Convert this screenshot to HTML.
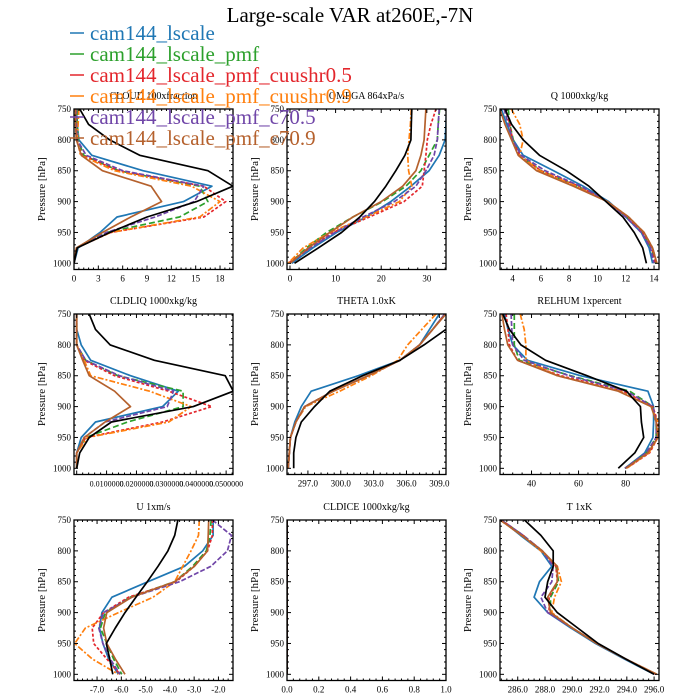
<!DOCTYPE html>
<html><head><meta charset="utf-8"><style>
body{margin:0;background:#fff;}
svg{display:block;font-family:"Liberation Serif",serif;}
</style></head><body>
<svg id="chart" width="700" height="700" viewBox="0 0 700 700"></svg>
<script>
const levels=[750,775,800,825,850,875,900,925,950,975,1000];
const seriesNames=["cam144_lscale","cam144_lscale_pmf","cam144_lscale_pmf_cuushr0.5","cam144_lscale_pmf_cuushr0.9","cam144_lscale_pmf_c70.5","cam144_lscale_pmf_c70.9","obs"];
const colors=["#1f77b4","#2ca02c","#e3262c","#ff7f0e","#7046a8","#b5612d","#000000"];
const dashes=["","6,3","3,2","6,2,2,2","5,2","",""];
const panelTitles=["CLOUD  100xfraction","OMEGA  864xPa/s","Q  1000xkg/kg","CLDLIQ  1000xkg/kg","THETA  1.0xK","RELHUM  1xpercent","U  1xm/s","CLDICE  1000xkg/kg","T  1xK"];
const xDomains=[[0,19.6],[-0.65,34.2],[3.11,14.35],[-0.0009,0.0523],[295.09,309.61],[26.6,94.2],[-7.95,-1.40],[0,1],[284.7,296.36]];
const xTicks=[[0,3,6,9,12,15,18],[0,10,20,30],[4,6,8,10,12,14],[0.01,0.02,0.03,0.04,0.05],[297,300,303,306,309],[40,60,80],[-7,-6,-5,-4,-3,-2],[0,0.2,0.4,0.6,0.8,1.0],[286,288,290,292,294,296]];
const xTickLabels=[["0","3","6","9","12","15","18"],["0","10","20","30"],["4","6","8","10","12","14"],["0.0100000","0.0200000","0.0300000","0.0400000","0.0500000"],["297.0","300.0","303.0","306.0","309.0"],["40","60","80"],["-7.0","-6.0","-5.0","-4.0","-3.0","-2.0"],["0.0","0.2","0.4","0.6","0.8","1.0"],["286.0","288.0","290.0","292.0","294.0","296.0"]];
const yTicks=[750,800,850,900,950,1000];
const cloudVals=[[0.3,0.4,0.6,2.2,8.5,17.0,13.5,5.3,3.2,0.5,0],[0.4,0.4,0.5,1.2,5.5,15.5,16.5,13,4,0.4,0],[0.2,0.2,0.3,1.0,5.5,16,18.7,16,4.5,0.3,0],[0.6,0.5,0.4,0.8,5,14.5,18,15.5,4.5,0.3,0],[0.3,0.3,0.4,1.5,6,16,14.8,10,4,0.4,0],[0.2,0.2,0.3,0.9,3.5,9.5,10.8,7,3.5,0.3,0],[0.7,1.8,4.4,8.1,16.5,19.6,15.1,9,4.4,0.4,0]];
const omegaVals=[[34.3,34.2,34,32.7,30.5,26.5,22.1,16.7,10.2,5,0.4],[32.8,32.5,32.3,30.5,28.7,25.4,20.3,13.8,8,3.6,0],[32,30.9,30.1,29.8,29.4,29,25,17.4,9.4,4.4,-0.4],[26.6,26.4,26.1,25.8,26,26.7,24,16.7,8.7,2.9,-0.4],[32.7,32.5,32.3,31.6,29.8,27.6,22.9,16,9.8,4.4,0],[29.8,29.6,29.4,28.7,27.6,24.7,20,13.8,8.7,4,0],[26.7,26.6,26.5,25.2,23.2,21,18.5,15.3,11.3,6.2,1]];
const qVals=[[3.2,3.6,4.05,4.75,6.9,9,10.8,12,13.1,13.65,13.9],[3.7,3.8,4.05,4.5,6.0,8.6,10.7,12.1,13.2,13.8,14.1],[3.5,3.8,4.0,4.5,6.0,8.7,10.7,12.1,13.2,13.85,14.1],[3.9,4.5,4.75,4.5,5.9,8.5,10.7,12.2,13.3,13.9,14.2],[3.4,3.7,4.0,4.6,6.3,8.8,10.7,12.0,13.1,13.75,14.0],[3.1,3.46,3.93,4.4,5.7,8.3,10.7,12.2,13.3,13.9,14.2],[3.46,3.93,4.75,5.9,7.8,9.4,10.6,11.8,12.6,13.2,13.46]];
const cldliqVals=[[0,0,0.0015,0.0047,0.018,0.034,0.0287,0.0063,0.0015,0,0],[0,0,0,0.003,0.0138,0.0356,0.0356,0.017,0.003,0,0],[0,0,0,0.0025,0.0127,0.0308,0.0452,0.0287,0.003,0,0],[0,0,0,0.0025,0.0047,0.0244,0.0383,0.0308,0.0036,0,0],[0,0,0,0.003,0.0143,0.0324,0.0303,0.0095,0.0025,0,0],[0,0,0,0.002,0.0042,0.0127,0.018,0.0095,0.0025,0,0],[0.0042,0.0063,0.0112,0.026,0.0497,0.0524,0.039,0.0116,0.0042,0.001,0]];
const thetaVals=[[309.0,308.1,307.2,305.4,301.6,297.3,296.4,295.8,295.4,295.3,295.2],[309.5,308.4,307.2,305.4,302.5,299.3,296.7,295.9,295.4,295.3,295.2],[309.5,308.4,307.2,305.4,302.5,299.3,296.7,295.9,295.4,295.3,295.2],[308.7,307.4,306.1,305.2,302.8,299.9,296.8,295.9,295.4,295.3,295.2],[309.5,308.4,307.2,305.4,302.5,299.3,296.7,295.9,295.4,295.3,295.2],[309.6,308.4,307.2,305.4,302.5,299.3,296.7,295.9,295.4,295.3,295.2],[311.0,309.6,307.6,305.4,302.0,299.0,297.6,296.4,295.9,295.7,295.7]];
const relhumVals=[[28.5,30,32,38.3,60.8,89.5,91.9,91.9,91.6,88.1,79.7],[32.7,32.7,32.7,34.8,56.6,81.8,91.6,93,93,88.8,79.7],[29.2,30,30.6,34,52.4,79,91.6,93.7,93.7,90.2,80.4],[35.2,36.9,37.6,37.6,51,77.6,90.9,93.7,93.7,89.9,80.4],[31.3,31.6,32,36.9,55.9,80.4,91.6,93,93,88.8,79.7],[27.4,28.5,29.9,34.1,51,76.9,90.9,93,93.7,89.5,80.1],[27.8,30.6,35.5,46,63.6,80.4,86.3,86.7,87.7,83.9,76.9]];
const uVals=[[-2.22,-2.22,-2.65,-3.4,-4.9,-6.39,-6.8,-6.9,-6.76,-6.52,-6.12],[-2.3,-2.35,-2.5,-3.06,-3.8,-5.64,-6.66,-6.86,-6.6,-6.32,-5.98],[-2.25,-2.25,-2.45,-3.0,-3.74,-5.7,-6.73,-7.2,-7.14,-6.6,-6.05],[-2.79,-2.82,-3.13,-3.47,-3.8,-4.69,-6.12,-7.48,-7.92,-7.2,-6.12],[-2.25,-1.46,-1.63,-2.31,-3.6,-5.57,-6.73,-6.93,-6.76,-6.46,-6.05],[-2.4,-2.42,-2.45,-2.99,-3.8,-5.57,-6.6,-6.73,-6.6,-6.25,-5.85],[-3.67,-3.8,-4.08,-4.49,-4.93,-5.4,-5.85,-6.25,-6.62,-6.48,-6.35]];
const cldiceVals=[[0,0,0,0,0,0,0,0,0,0,0],[0,0,0,0,0,0,0,0,0,0,0],[0,0,0,0,0,0,0,0,0,0,0],[0,0,0,0,0,0,0,0,0,0,0],[0,0,0,0,0,0,0,0,0,0,0],[0,0,0,0,0,0,0,0,0,0,0],[0,0,0,0,0,0,0,0,0,0,0]];
const tVals=[[284.8,286.2,287.7,288.5,287.6,287.2,288.2,289.9,291.7,293.8,296.0],[284.8,286.4,287.8,288.8,289.0,288.4,288.4,290.0,291.8,293.9,296.1],[284.8,286.4,287.8,288.8,288.9,288.3,288.3,290.0,291.8,293.9,296.1],[284.7,286.3,287.7,288.9,289.2,288.7,288.5,290.0,291.8,293.9,296.2],[284.8,286.4,287.8,288.6,288.5,287.7,288.2,290.0,291.8,293.9,296.1],[284.7,286.3,287.8,288.9,288.9,288.2,288.4,290.0,291.8,293.9,296.2],[286.5,287.7,288.6,288.6,288.2,288.0,288.9,290.4,291.9,293.9,296.0]];
const panelData=[cloudVals,omegaVals,qVals,cldliqVals,thetaVals,relhumVals,uVals,cldiceVals,tVals];
const panelKeys=["cloud","omega","q","cldliq","theta","relhum","u","cldice","t"];

const NS="http://www.w3.org/2000/svg";
const svg=document.getElementById('chart');
function mk(tag,attrs,parent){const e=document.createElementNS(NS,tag);for(const k in attrs)e.setAttribute(k,attrs[k]);(parent||svg).appendChild(e);return e;}

const colX=[74,287,500], rowY=[109,314,520], PW=159, PH=160.5;
const pMin=750,pMax=1010;

const t=mk('text',{x:350,y:22,'text-anchor':'middle','font-size':21,fill:'#000'});
t.textContent="Large-scale VAR at260E,-7N";



const defs=mk('defs',{});
panelData.forEach((data,pi)=>{
  const x0=colX[pi%3], y0=rowY[Math.floor(pi/3)];
  const [d0,d1]=xDomains[pi];
  const xs=v=>x0+(v-d0)/(d1-d0)*PW;
  const ys=p=>y0+(p-pMin)/(pMax-pMin)*PH;
  const g=mk('g',{});
  
  
  const cp=mk('clipPath',{id:'cp'+pi},defs);
  mk('rect',{x:x0,y:y0,width:PW,height:PH},cp);
  const tt=mk('text',{x:x0+PW/2,y:y0-10,'text-anchor':'middle','font-size':10},g);
  tt.textContent=panelTitles[pi];
  
  
  const yl=mk('text',{x:0,y:0,'text-anchor':'middle','font-size':11,transform:`translate(${x0-29},${y0+PH/2}) rotate(-90)`},g);
  yl.textContent="Pressure [hPa]";
  
  
  const sg=mk('g',{'clip-path':`url(#cp${pi})`},g);
  data.forEach((vals,si)=>{
    const pts=vals.map((v,i)=>xs(v).toFixed(1)+','+ys(levels[i]).toFixed(1)).join(' ');
    const pl=mk('polyline',{points:pts,fill:'none',stroke:colors[si],'stroke-width':1.7,'stroke-dasharray':dashes[si],'stroke-linejoin':'round'},sg);
    
    
  });
  const fr=mk('rect',{x:x0,y:y0,width:PW,height:PH,fill:'none',stroke:'#000','stroke-width':1.3},g);
  
  
  for(let p=750;p<=1010;p+=10){
    const major=yTicks.includes(p), L=major?4:2, y=ys(p);
    mk('line',{x1:x0,x2:x0+L,y1:y,y2:y,stroke:'#000','stroke-width':1},g);
    mk('line',{x1:x0+PW,x2:x0+PW-L,y1:y,y2:y,stroke:'#000','stroke-width':1},g);
  }
  yTicks.forEach(p=>{
    const lb=mk('text',{x:x0-3,y:ys(p)+3,'text-anchor':'end','font-size':9},g);
    lb.textContent=p;
    
    
  });
  const tk=xTicks[pi], step=tk.length>1?tk[1]-tk[0]:1, ms=step/5;
  for(let v=tk[0]-10*ms; v<=d1+1e-9; v+=ms){
    if(v<d0-1e-9) continue;
    const k=Math.round((v-tk[0])/ms), major=k%5===0, L=major?4:2, x=xs(v);
    mk('line',{x1:x,x2:x,y1:y0+PH,y2:y0+PH-L,stroke:'#000','stroke-width':1},g);
    mk('line',{x1:x,x2:x,y1:y0,y2:y0+L,stroke:'#000','stroke-width':1},g);
  }
  tk.forEach((v,i)=>{
    const lb=mk('text',{x:xs(v),y:y0+PH+12,'text-anchor':'middle','font-size':pi===3?8:9},g);
    lb.textContent=xTickLabels[pi][i];
    
    
  });
});

const lg=mk('g',{});


for(let i=0;i<6;i++){
  const cy=33+21*i;
  const e=mk('g',{},lg);
  
  
  mk('line',{x1:70,x2:84,y1:cy,y2:cy,stroke:colors[i],'stroke-width':1.5},e);
  const tx=mk('text',{x:90,y:cy+7,'font-size':21,fill:colors[i]},e);
  tx.textContent=seriesNames[i];
}
</script>
</body></html>
